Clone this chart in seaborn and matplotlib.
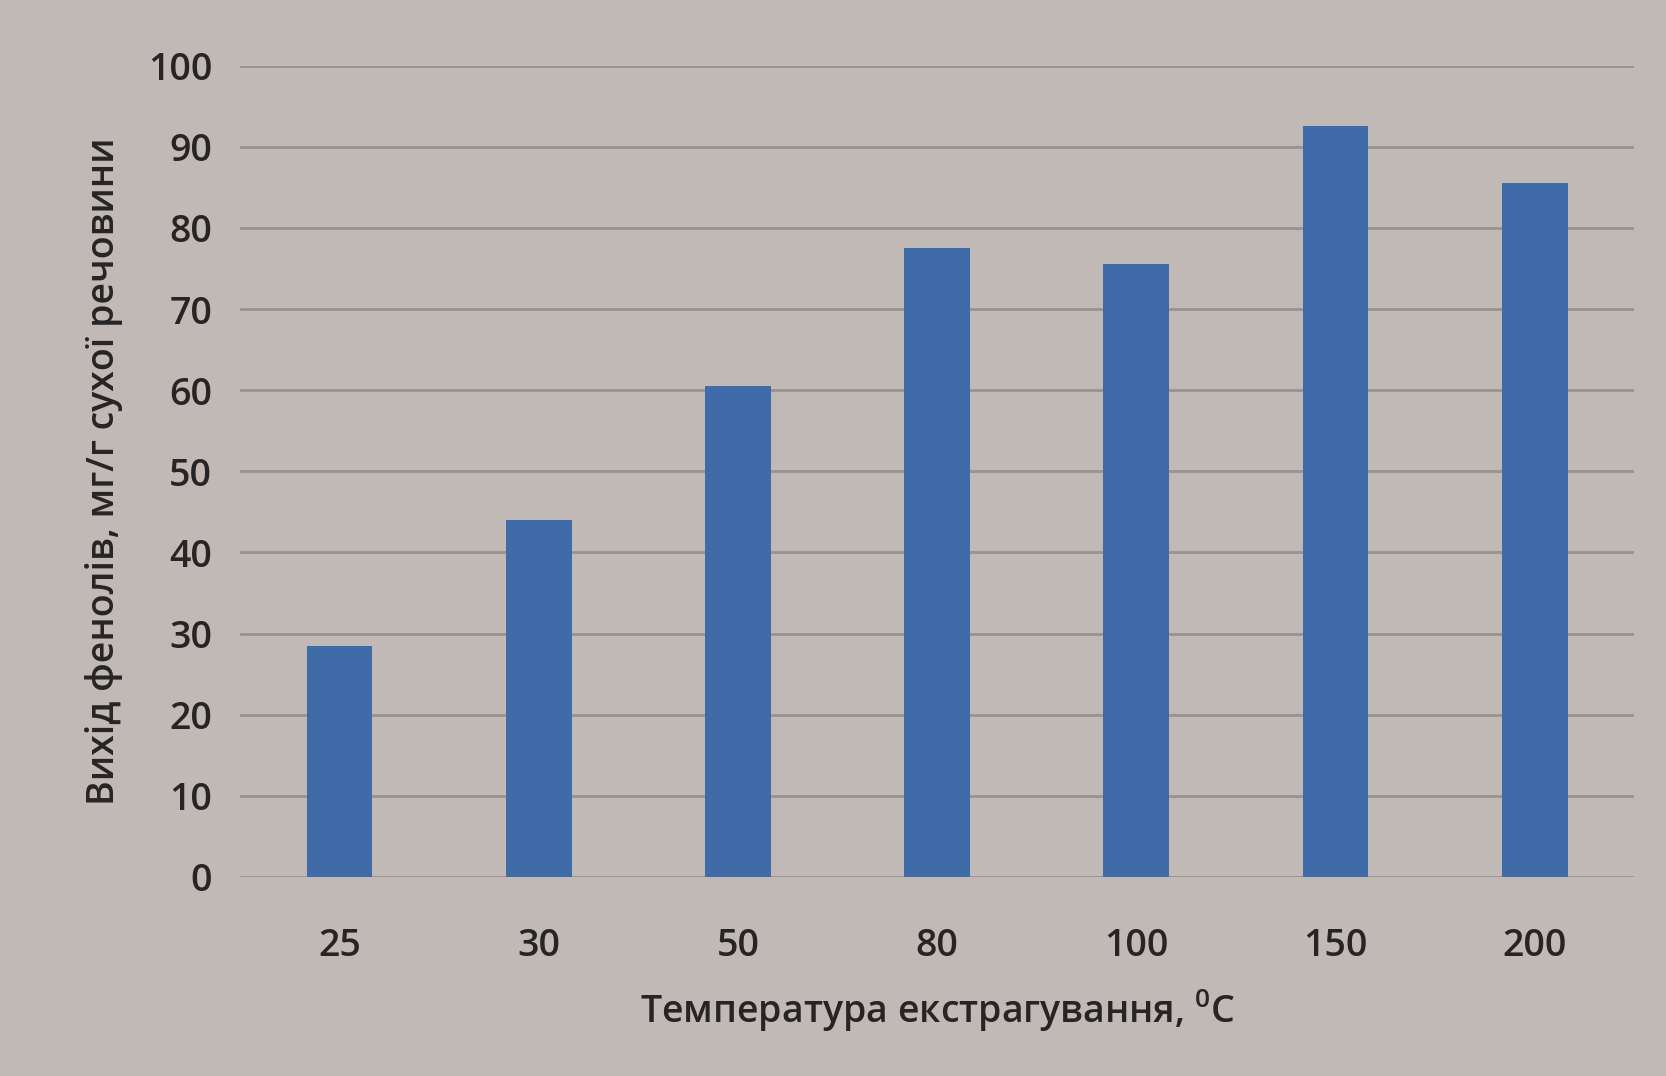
import matplotlib.pyplot as plt
import pandas as pd
import seaborn as sns

# Values
temperatures = ['25', '30', '50', '80', '100', '150', '200']
phenol_yield = [28.5, 44, 60.5, 77.5, 75.5, 92.5, 85.5]
y_ticks = list(range(0, 101, 10))

df = pd.DataFrame({'temp': temperatures, 'yield': phenol_yield})

sns.set_theme(style='white')
plt.rcParams['font.family'] = ['Open Sans', 'DejaVu Sans']
plt.rcParams['mathtext.fontset'] = 'custom'
plt.rcParams['mathtext.rm'] = 'Open Sans:semibold'

bg = '#c1b9b5'
txt = '#262424'
fig = plt.figure(figsize=(16.66, 10.76), dpi=100, facecolor=bg)
ax = fig.add_axes([0.144, 0.185, 0.837, 0.754], facecolor=bg)

sns.barplot(data=df, x='temp', y='yield', color='#3f6ba8', saturation=1,
            width=0.33, linewidth=0, ax=ax, zorder=3)

ax.set_ylim(0, 100)
ax.set_xlim(-0.5, 6.5)
ax.set_yticks(y_ticks)
ax.yaxis.grid(True, color='#9a9290', linewidth=2)
ax.set_axisbelow(True)
for s in ax.spines.values():
    s.set_visible(False)

ax.tick_params(axis='y', length=0, pad=20, labelsize=27, labelcolor=txt)
ax.tick_params(axis='x', length=0, pad=36, labelsize=27, labelcolor=txt)
for lab in ax.get_xticklabels() + ax.get_yticklabels():
    lab.set_fontweight('semibold')

ax.set_xlabel(r'Температура екстрагування, $^{\mathregular{0}}$C', fontsize=27,
              color=txt, fontweight='semibold', labelpad=16)
ax.set_ylabel('Вихід фенолів, мг/г сухої речовини', fontsize=27,
              color=txt, fontweight='semibold', labelpad=18)

fig.savefig('out.png', dpi=100, facecolor=bg)
